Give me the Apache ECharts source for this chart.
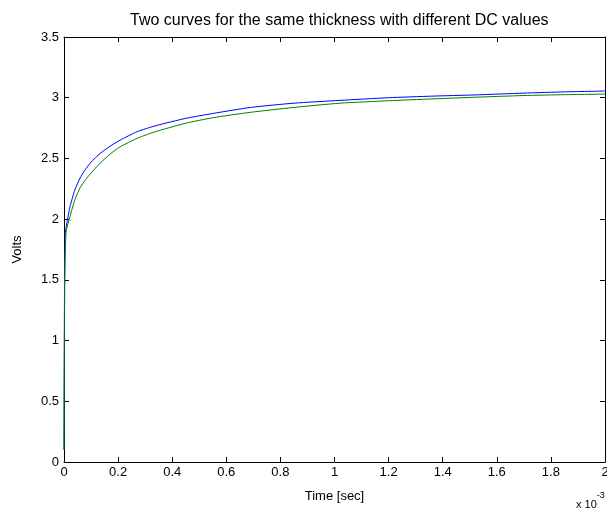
<!DOCTYPE html>
<html>
<head>
<meta charset="utf-8">
<script src="https://cdn.jsdelivr.net/npm/echarts@6/dist/echarts.min.js"></script>
<style>
html,body{margin:0;padding:0;background:#fff;overflow:hidden;}
#chart{width:607px;height:510px;}
</style>
</head>
<body>
<div id="chart"></div>
<script>
// Time in units of 1e-3 s (ms)
const titleText = 'Two curves for the same thickness with different DC values';
const xTickLabels = ['0','0.2','0.4','0.6','0.8','1','1.2','1.4','1.6','1.8','2'];
const yTickLabels = ['0','0.5','1','1.5','2','2.5','3','3.5'];

const blueTime = [0, 0.004, 0.01, 0.022, 0.04, 0.06, 0.078, 0.1, 0.133, 0.17, 0.207, 0.27, 0.34, 0.45, 0.55, 0.69, 0.85, 1.02, 1.2, 1.36, 1.52, 1.7, 1.85, 2.0];
const blueVolts = [0.1, 1.87, 1.96, 2.10, 2.24, 2.34, 2.405, 2.47, 2.54, 2.6, 2.65, 2.72, 2.77, 2.83, 2.87, 2.92, 2.955, 2.978, 3.0, 3.013, 3.023, 3.038, 3.048, 3.055];

const greenTime = [0, 0.002, 0.008, 0.022, 0.04, 0.06, 0.078, 0.1, 0.133, 0.17, 0.207, 0.27, 0.33, 0.45, 0.55, 0.69, 0.85, 1.02, 1.2, 1.36, 1.52, 1.7, 1.85, 2.0];
const greenVolts = [0.1, 1.45, 1.9, 2.02, 2.16, 2.26, 2.32, 2.38, 2.46, 2.535, 2.595, 2.665, 2.715, 2.79, 2.835, 2.88, 2.92, 2.955, 2.975, 2.99, 3.004, 3.018, 3.025, 3.03];

const FONT = 'Liberation Sans, Arial, sans-serif';
const chart = echarts.init(document.getElementById('chart'), null, {renderer:'canvas', width:607, height:510});

function pairs(xs, ys){ return xs.map((x,i)=>[x, ys[i]]); }

const axisCommon = {
  axisLine:{show:true, onZero:false, lineStyle:{color:'#000', width:1}},
  axisTick:{show:true, inside:true, length:5, lineStyle:{color:'#000'}},
  splitLine:{show:false}
};

chart.setOption({
  animation:false,
  backgroundColor:'#fff',
  title:{
    text:titleText, left:125, top:8,
    textStyle:{fontFamily:FONT, fontSize:16, fontWeight:'normal', color:'#000'}
  },
  grid:{left:64, right:2, top:37, bottom:48, containLabel:false, outerBoundsMode:'none'},
  xAxis:[
    Object.assign({
      type:'value', min:0, max:2, interval:0.2, position:'bottom',
      name:'Time [sec]', nameLocation:'middle', nameGap:28,
      nameTextStyle:{fontFamily:FONT, fontSize:13, color:'#000'},
      axisLabel:{fontFamily:FONT, fontSize:13, color:'#000', margin:4,
        formatter:(v)=>{ const i=Math.round(v/0.2); return xTickLabels[i]; }}
    }, axisCommon),
    Object.assign({
      type:'value', min:0, max:2, interval:0.2, position:'top',
      axisLabel:{show:false}
    }, axisCommon)
  ],
  yAxis:[
    Object.assign({
      type:'value', min:0, max:3.5, interval:0.5, position:'left',
      name:'Volts', nameLocation:'middle', nameGap:40, nameRotate:90,
      nameTextStyle:{fontFamily:FONT, fontSize:13, color:'#000'},
      axisLabel:{fontFamily:FONT, fontSize:13, color:'#000', margin:5,
        formatter:(v)=>{ const i=Math.round(v/0.5); return yTickLabels[i]; }}
    }, axisCommon),
    Object.assign({
      type:'value', min:0, max:3.5, interval:0.5, position:'right',
      axisLabel:{show:false}
    }, axisCommon)
  ],
  series:[
    {type:'line', xAxisIndex:0, yAxisIndex:0, data:pairs(blueTime, blueVolts), showSymbol:false,
      lineStyle:{color:'#0000ff', width:1}, itemStyle:{color:'#0000ff'}, smooth:0.2},
    {type:'line', xAxisIndex:0, yAxisIndex:0, data:pairs(greenTime, greenVolts), showSymbol:false,
      lineStyle:{color:'#008000', width:1}, itemStyle:{color:'#008000'}, smooth:0.2}
  ],
  graphic:[
    {type:'text', left:576, top:491, style:{
      text:'{a|x 10}{b|-3}', fill:'#000',
      rich:{a:{fontFamily:FONT, fontSize:11, padding:[8,0,0,0]}, b:{fontFamily:FONT, fontSize:9, verticalAlign:'top', padding:[0,0,8,0]}}
    }}
  ]
});
</script>
</body>
</html>
